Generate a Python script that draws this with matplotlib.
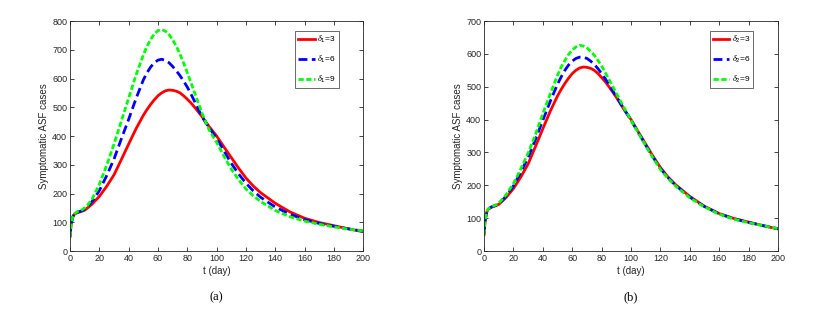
import matplotlib
matplotlib.use("Agg")
import matplotlib.pyplot as plt

# ── Data ──────────────────────────────────────────────
t = [0, 0.5, 1, 2, 3, 5, 8, 10, 12, 15, 20, 25, 30, 35, 40, 45,
     50, 52.5, 55, 57.5, 60, 62.5, 65, 67.5, 70, 72.5, 75, 77.5, 80, 82.5, 85,
     90, 95, 100, 105, 110, 115, 120, 125, 130, 140, 150, 160, 170, 180, 190, 200]

# shared baseline (delta = 3)
base = [50, 80, 100, 120, 128, 133, 138, 142, 150, 163, 190, 225, 265, 318, 372, 425,
        472, 492, 510, 526, 540, 550, 557, 560, 559, 556, 550, 540, 528, 515, 500,
        468, 432, 400, 362, 325, 288, 254, 226, 203, 166, 136, 114, 99, 88, 77, 67]

# panel (a): delta_1 = 6, 9
d1_6 = [50, 80, 100, 120, 129, 135, 140, 146, 155, 172, 210, 262, 320, 390, 458, 530,
        595, 620, 640, 655, 664, 667, 663, 655, 642, 627, 610, 591, 570, 546, 520,
        467, 428, 392, 348, 305, 268, 236, 209, 187, 153, 128, 109, 96, 86, 77, 69]
d1_9 = [50, 80, 100, 121, 130, 137, 143, 150, 160, 180, 232, 298, 372, 452, 532, 612,
        682, 712, 736, 755, 767, 770, 765, 753, 735, 712, 685, 654, 620, 586, 550,
        480, 420, 378, 330, 285, 248, 216, 192, 172, 141, 119, 104, 93, 84, 76, 70]

# panel (b): delta_2 = 6, 9
d2_6 = [50, 80, 100, 120, 128, 134, 139, 144, 152, 167, 198, 240, 285, 340, 398, 455,
        508, 530, 550, 566, 578, 586, 590, 590, 586, 578, 568, 555, 540, 524, 506,
        470, 434, 398, 360, 322, 285, 251, 224, 201, 164, 135, 113, 98, 87, 77, 68]
d2_9 = [50, 80, 100, 121, 129, 135, 140, 146, 155, 171, 205, 250, 298, 355, 418, 478,
        535, 560, 580, 598, 612, 621, 626, 624, 618, 608, 596, 580, 563, 543, 522,
        480, 438, 398, 359, 320, 283, 248, 222, 199, 162, 134, 112, 97, 86, 77, 68]

labels_a = [r"$\delta_1$=3", r"$\delta_1$=6", r"$\delta_1$=9"]
labels_b = [r"$\delta_2$=3", r"$\delta_2$=6", r"$\delta_2$=9"]

plt.rcParams["font.family"] = ["Liberation Sans", "DejaVu Sans"]
plt.rcParams["mathtext.fontset"] = "custom"
plt.rcParams["mathtext.it"] = "Liberation Serif:italic"
plt.rcParams["mathtext.rm"] = "Liberation Sans"

fig = plt.figure(figsize=(8.19, 3.14), dpi=100)

panels = [
    (fig.add_axes([0.0855, 0.2006, 0.358, 0.7325]), d1_6, d1_9, labels_a, 800, "(a)"),
    (fig.add_axes([0.591, 0.2006, 0.359, 0.7325]), d2_6, d2_9, labels_b, 700, "(b)"),
]

for ax, s6, s9, labels, ymax, tag in panels:
    ax.plot(t, base, color="#ff0000", lw=2.0, label=labels[0])
    ax.plot(t, s6, color="#0000ff", lw=2.0, dashes=(3.2, 1.6), label=labels[1])
    ax.plot(t, s9, color="#00ff00", lw=2.0, dashes=(1.9, 0.9), label=labels[2])

    ax.set_xlim(0, 200)
    ax.set_ylim(0, ymax)
    ax.set_xticks(range(0, 201, 20))
    ax.set_yticks(range(0, ymax + 1, 100))
    ax.tick_params(direction="in", top=True, right=True, labelsize=6.5,
                   length=3, width=0.6, colors="#262626", pad=2)
    for sp in ax.spines.values():
        sp.set_linewidth(0.6)
        sp.set_color("#262626")

    ax.set_xlabel("t (day)", fontsize=7, color="#262626", labelpad=2)
    ax.set_ylabel("Symptomatic ASF cases", fontsize=7, color="#262626", labelpad=2)

    leg = ax.legend(loc="upper right", fontsize=6, frameon=True, fancybox=False,
                    edgecolor="#262626", handlelength=2.0, borderpad=0.35,
                    labelspacing=1.05, handletextpad=0.3,
                    bbox_to_anchor=(0.93, 0.975))
    leg.get_frame().set_linewidth(0.6)

    box = ax.get_position()
    fig.text(box.x0 + box.width / 2, 0.035, tag, ha="center", va="bottom",
             fontsize=9, family="Liberation Serif")

fig.savefig("out.png", dpi=100)
